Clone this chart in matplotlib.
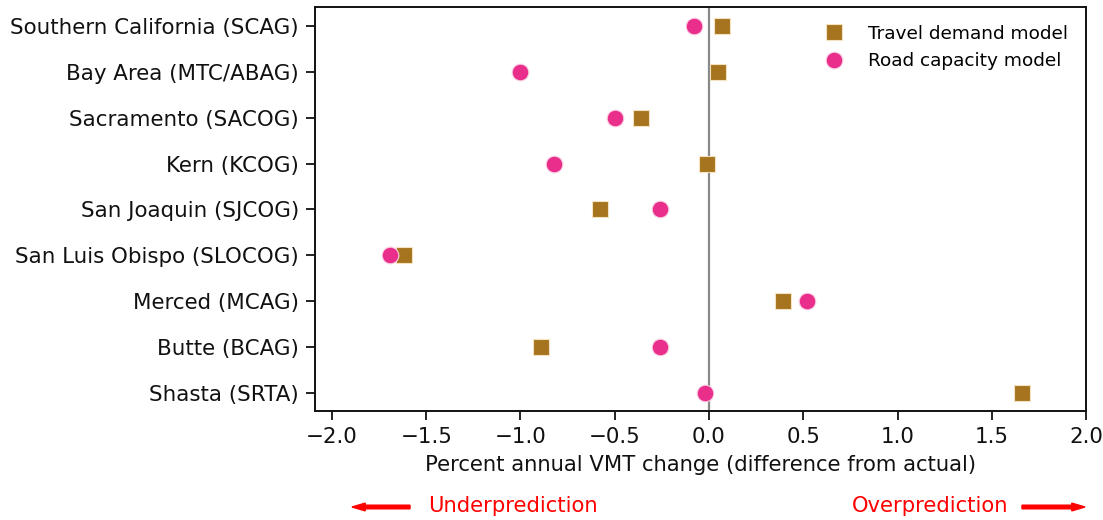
import matplotlib
matplotlib.use("Agg")
import matplotlib.pyplot as plt

regions = ["Southern California (SCAG)", "Bay Area (MTC/ABAG)", "Sacramento (SACOG)",
           "Kern (KCOG)", "San Joaquin (SJCOG)", "San Luis Obispo (SLOCOG)",
           "Merced (MCAG)", "Butte (BCAG)", "Shasta (SRTA)"]
travel_demand = [0.07, 0.05, -0.36, -0.01, -0.58, -1.62, 0.39, -0.89, 1.66]
road_capacity = [-0.08, -1.00, -0.50, -0.82, -0.26, -1.69, 0.52, -0.26, -0.02]

sq_color = "#A6731F"
ci_color = "#E92F8B"

fig = plt.figure(figsize=(11.03, 5.2), dpi=100)
ax = fig.add_axes([0.2856, 0.2096, 0.6990, 0.7769])

ypos = list(range(len(regions)))
ax.axvline(0, color="#888888", lw=1.6, zorder=1)
ax.plot(travel_demand, ypos, ls="none", marker="s", ms=12, color=sq_color,
        mec="#F3E3C0", mew=0.8, label="Travel demand model", zorder=3)
ax.plot(road_capacity, ypos, ls="none", marker="o", ms=12, color=ci_color,
        mec="#FAD0E4", mew=0.8, label="Road capacity model", zorder=3)

ax.set_yticks(ypos)
ax.set_yticklabels(regions)
ax.set_ylim(len(regions) - 1 + 0.39, -0.41)
ax.set_xlim(-2.09, 2.0)
ax.set_xticks([-2.0, -1.5, -1.0, -0.5, 0.0, 0.5, 1.0, 1.5, 2.0])
ax.set_xticklabels(["\u22122.0", "\u22121.5", "\u22121.0", "\u22120.5", "0.0",
                    "0.5", "1.0", "1.5", "2.0"])
ax.tick_params(labelsize=15.4, length=6.5, width=1.3, colors="#111111", pad=5)
for s in ax.spines.values():
    s.set_linewidth(1.4)
    s.set_color("#111111")
ax.set_xlabel("Percent annual VMT change (difference from actual)", fontsize=15.2,
              labelpad=6, color="#111111")

ax.legend(loc="upper right", frameon=False, fontsize=13.3, handletextpad=0.85,
          borderaxespad=0.3, labelspacing=0.5, bbox_to_anchor=(0.993, 0.988))

# Under/over prediction annotations
fig.text(428 / 1103, 1 - 506 / 520, "Underprediction", color="red", fontsize=15.2,
         ha="left", va="center")
fig.text(1008 / 1103, 1 - 506 / 520, "Overprediction", color="red", fontsize=15.2,
         ha="right", va="center")
fig.patches.append(matplotlib.patches.FancyArrow(
    410 / 1103, 1 - 507 / 520, -58 / 1103, 0, width=0.007, head_width=0.015,
    head_length=0.012, length_includes_head=True, color="red",
    transform=fig.transFigure, figure=fig))
fig.patches.append(matplotlib.patches.FancyArrow(
    1022 / 1103, 1 - 507 / 520, 63 / 1103, 0, width=0.007, head_width=0.015,
    head_length=0.012, length_includes_head=True, color="red",
    transform=fig.transFigure, figure=fig))

fig.savefig("out.png", dpi=100)
